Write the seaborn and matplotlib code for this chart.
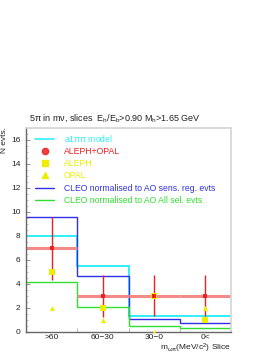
import matplotlib
matplotlib.use('Agg')
import matplotlib.pyplot as plt
from matplotlib.lines import Line2D
from matplotlib.ticker import MultipleLocator, FixedLocator
import numpy as np
import pandas as pd
import seaborn as sns

# slices in m (MeV/c^2)
slices = ['>60', '60\u221230', '30\u22120', '0<']
edges = [0, 1, 2, 3, 4]

# histograms
a1pipi_model = [7.95, 5.45, 1.3, 1.3]
cleo_sens = [9.6, 4.62, 1.05, 0.72]
cleo_all = [4.18, 2.05, 0.47, 0.3]

# data points
aleph_opal = [7.0, 3.0, 3.0, 3.0]
aleph_opal_lo = [2.7, 1.75, 1.65, 1.7]
aleph_opal_hi = [2.6, 1.75, 1.7, 1.7]
aleph = [5, 2, 3, 1]
opal = [2, 1, 0, 2]

CYAN = '#30eef8'
RED = '#ee2020'
LRED = '#f28a8a'
YEL = '#eeee00'
BLUE = '#3030e8'
GREEN = '#30e030'

sns.set_style('white')
plt.rcParams['font.family'] = ['Liberation Sans', 'DejaVu Sans']
plt.rcParams['mathtext.default'] = 'regular'

fig = plt.figure(figsize=(2.77, 3.58), dpi=100)
ax = fig.add_axes([26 / 277, 26 / 358, 205 / 277, 204.5 / 358])

centers = [0.5 + i for i in range(len(slices))]
pts = pd.DataFrame({'x': centers, 'ao': aleph_opal, 'aleph': aleph, 'opal': opal})

ax.stairs(a1pipi_model, edges, color=CYAN, lw=1.4, baseline=None)
ax.stairs(cleo_sens, edges, color=BLUE, lw=1.0, baseline=None)
ax.stairs(cleo_all, edges, color=GREEN, lw=1.0, baseline=None)
# ALEPH+OPAL as horizontal bands over each slice
ax.hlines(aleph_opal, edges[:-1], edges[1:], color=LRED, lw=2.2)

ax.errorbar(pts['x'], pts['ao'], yerr=[aleph_opal_lo, aleph_opal_hi], fmt='none',
            ecolor=RED, elinewidth=1.0, capsize=0)
sns.scatterplot(data=pts, x='x', y='opal', marker='^', color=YEL, s=14,
                linewidth=0, ax=ax, zorder=4)
sns.scatterplot(data=pts, x='x', y='aleph', marker='s', color=YEL, s=18,
                linewidth=0, ax=ax, zorder=4)
sns.scatterplot(data=pts, x='x', y='ao', marker='s', color=RED, s=7,
                linewidth=0, ax=ax, zorder=5)

ax.set_xlim(0, 4)
ax.set_ylim(0, 17)
ax.set_xlabel('')
ax.set_ylabel('')
ax.xaxis.set_major_locator(FixedLocator(centers))
ax.set_xticklabels(slices)
ax.xaxis.set_minor_locator(FixedLocator([1, 2, 3]))
ax.yaxis.set_major_locator(MultipleLocator(2))
ax.yaxis.set_minor_locator(MultipleLocator(0.5))
ax.tick_params(axis='x', which='major', length=0, labelsize=6, pad=1.5, colors='#222')
ax.tick_params(axis='x', which='minor', direction='in', length=3, color='#aaa', bottom=True)
ax.tick_params(axis='y', which='major', direction='in', length=3, color='#999',
               labelsize=6, pad=4, labelcolor='#222', left=True)
ax.tick_params(axis='y', which='minor', direction='in', length=1.5, color='#bbb', left=True)
for s in ['left', 'bottom']:
    ax.spines[s].set_color('#666')
    ax.spines[s].set_linewidth(1.0)
for s in ['top', 'right']:
    ax.spines[s].set_color('#d4d4d4')
    ax.spines[s].set_linewidth(1.2)

handles = [
    Line2D([], [], color=CYAN, lw=1.2),
    Line2D([], [], color=RED, marker='o', ms=4.5, lw=0, alpha=0.85),
    Line2D([], [], color=YEL, marker='s', ms=4.5, lw=0),
    Line2D([], [], color=YEL, marker='^', ms=4.5, lw=0),
    Line2D([], [], color=BLUE, lw=1.0),
    Line2D([], [], color=GREEN, lw=1.0),
]
labels = [r'a1$\pi\pi$ model', 'ALEPH+OPAL', 'ALEPH', 'OPAL',
          'CLEO normalised to AO sens. reg. evts',
          'CLEO normalised to AO All sel. evts']
leg = ax.legend(handles, labels, loc='upper left', bbox_to_anchor=(0.02, 1.0),
                frameon=False, fontsize=6.2, handlelength=2.2, handletextpad=1.1,
                labelspacing=0.38, borderaxespad=0.2)
for t, c in zip(leg.get_texts(), [CYAN, RED, YEL, YEL, BLUE, GREEN]):
    t.set_color(c)

fig.text(29 / 277, 1 - 118 / 358,
         r'5$\pi$ in m$\nu$, slices  E$_h$/E$_b$>0.90 M$_h$>1.65 GeV',
         ha='left', va='center', fontsize=6.5, color='#222')
fig.text(5 / 277, 1 - 127 / 358, 'N evts.', rotation=90, ha='center', va='top',
         fontsize=6, color='#222')
fig.text(231 / 277, 1 - 348 / 358, r'm$_{\omega\pi}$(MeV/c$^{2}$) Slice',
         ha='right', va='center', fontsize=6, color='#222')

fig.savefig('out.png', dpi=100)
